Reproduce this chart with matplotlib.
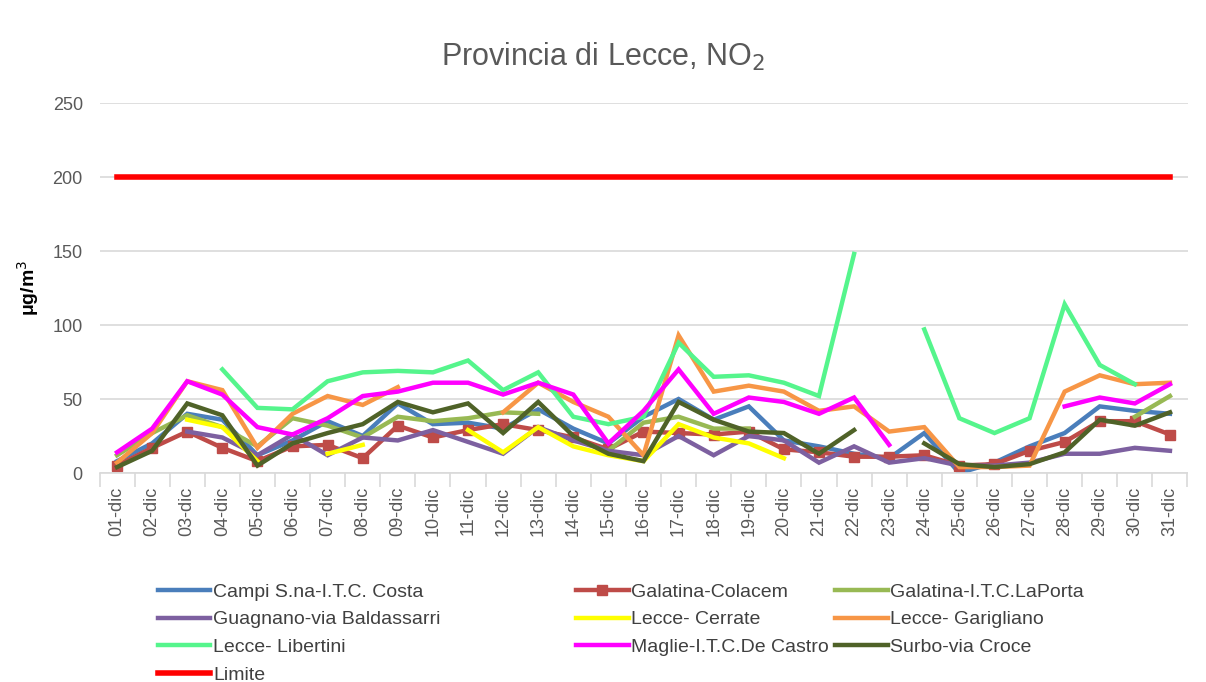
import numpy as np
import matplotlib
matplotlib.use("Agg")
import matplotlib.pyplot as plt

nan = np.nan
days = [f"{d:02d}-dic" for d in range(1, 32)]

campi = [8, 20, 40, 36, 12, 22, 35, 25, 47, 33, 34, 30, 43, 30, 20, 38, 50, 36, 45, 22, 18, 13, 10, 27, 0, 7, 18, 27, 45, 42, 40]
colacem = [5, 17, 28, 17, 8, 18, 19, 10, 32, 24, 29, 33, 29, 24, 16, 28, 27, 26, 28, 16, 14, 11, 11, 12, 5, 6, 15, 21, 35, 35, 26]
laporta = [12, 27, 39, 31, 18, 37, 32, 24, 38, 35, 37, 41, 40, nan, 15, 34, 38, 30, 30, nan, nan, nan, nan, nan, nan, nan, nan, nan, nan, 38, 52]
guagnano = [nan, nan, 28, 24, 12, 26, 12, 24, 22, 29, 21, 13, 31, 22, 15, 12, 25, 12, 25, 22, 7, 18, 7, 10, 5, 5, 7, 13, 13, 17, 15]
cerrate = [nan, nan, 36, 31, 8, nan, 13, 19, nan, nan, 29, 14, 31, 18, 12, 8, 33, 24, 20, 10, nan, nan, nan, nan, nan, nan, nan, nan, nan, nan, nan]
garigliano = [7, 27, 62, 56, 17, 40, 52, 46, 58, nan, nan, 41, 61, 48, 38, 12, 93, 55, 59, 55, 42, 45, 28, 31, 4, 4, 5, 55, 66, 60, 61]
libertini = [nan, nan, nan, 70, 44, 43, 62, 68, 69, 68, 76, 56, 68, 38, 33, 38, 88, 65, 66, 61, 52, 148, nan, 97, 37, 27, 37, 114, 73, 60, nan]
maglie = [14, 30, 62, 53, 31, 26, 37, 52, 55, 61, 61, 53, 61, 53, 20, 42, 70, 40, 51, 48, 40, 51, 19, nan, nan, nan, nan, 45, 51, 47, 60]
surbo = [4, 15, 47, 39, 5, 20, 27, 33, 48, 41, 47, 27, 48, 25, 13, 8, 48, 36, 28, 27, 13, 29, nan, 20, 6, 4, 6, 14, 36, 32, 41]
limite = [200] * 31

series = [
    ("Campi S.na-I.T.C. Costa", campi, "#4A7EBB", None),
    ("Galatina-Colacem", colacem, "#BE4B48", "s"),
    ("Galatina-I.T.C.LaPorta", laporta, "#98B954", None),
    ("Guagnano-via Baldassarri", guagnano, "#7D60A0", None),
    ("Lecce- Cerrate", cerrate, "#FFFF00", None),
    ("Lecce- Garigliano", garigliano, "#F79646", None),
    ("Lecce- Libertini", libertini, "#55F58C", None),
    ("Maglie-I.T.C.De Castro", maglie, "#FF00FF", None),
    ("Surbo-via Croce", surbo, "#4F6228", None),
    ("Limite", limite, "#FF0000", None),
]

plt.rcParams['font.family'] = ["Liberation Sans", "DejaVu Sans"]

fig = plt.figure(figsize=(12.06, 6.82), dpi=100)
ax = fig.add_axes([99.5 / 1206, 1 - 473 / 682, 1088 / 1206, 370 / 682])

x = np.arange(len(days))
handles = []
for name, vals, col, mk in series:
    lw = 4.0 if name == "Limite" else 3.2
    h, = ax.plot(x, np.array(vals, dtype=float), color=col, lw=lw, label=name,
                 marker=mk, markersize=7 if mk else 0, solid_joinstyle='miter')
    handles.append(h)

ax.set_xlim(-0.5, len(days) - 0.5)
ax.set_ylim(0, 250)
ax.set_yticks([0, 50, 100, 150, 200, 250])
ax.yaxis.grid(True, color="#D9D9D9", lw=1.2)
ax.set_axisbelow(True)
ax.set_xticks(x)
ax.set_xticklabels(days, rotation=90, fontsize=13, color="#595959")
ax.tick_params(axis='y', length=0, labelsize=13, labelcolor="#595959", pad=12)
ax.set_xticks(np.arange(-0.5, len(days)), minor=True)
ax.tick_params(axis='x', which='major', length=0, pad=10)
ax.tick_params(axis='x', which='minor', length=10, color="#D9D9D9", width=1.2)
for s in ["top", "right", "left"]:
    ax.spines[s].set_visible(False)
ax.spines["bottom"].set_color("#D9D9D9")
ax.spines["bottom"].set_linewidth(1.2)

ax.set_ylabel("μg/m$^3$", fontsize=14, fontweight="bold", labelpad=8)
fig.text(0.5, 1 - 57 / 682, "Provincia di Lecce, NO$_2$", ha="center", va="center",
         fontsize=22, color="#595959")

# legend: three columns placed like the reference (row-major order)
col_x = [158, 576, 835]
for c in range(3):
    hs = handles[c::3]
    leg = fig.legend(handles=hs, labels=[h.get_label() for h in hs],
                     loc="upper left", bbox_to_anchor=(col_x[c] / 1206, 1 - 583 / 682),
                     ncol=1, frameon=False, fontsize=14, handlelength=2.7,
                     handletextpad=0.15, labelspacing=0.52, borderaxespad=0, borderpad=0)
    for t in leg.get_texts():
        t.set_color("#404040")

fig.savefig("out.png", dpi=100)
